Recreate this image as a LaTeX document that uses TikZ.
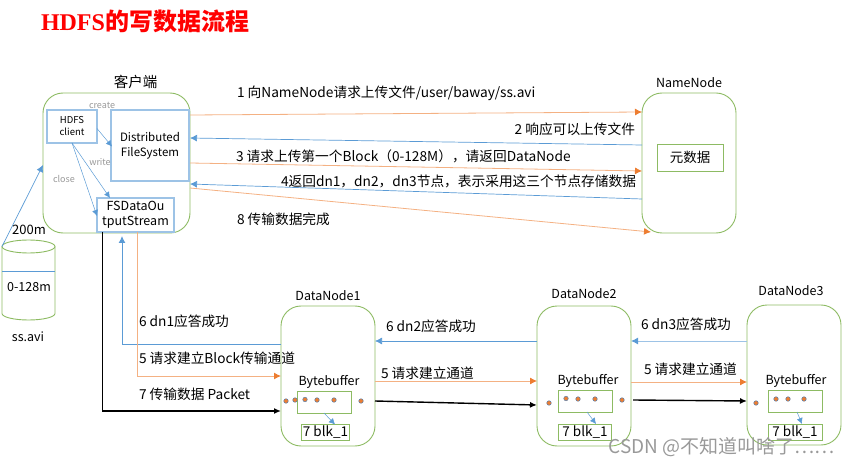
\documentclass[tikz,border=0pt]{standalone}
\usepackage{fontspec}
\setmainfont{Noto Sans CJK SC}
\newfontfamily\titlefont{Liberation Serif}
\usetikzlibrary{arrows.meta, positioning}
\usepackage{xcolor}
\definecolor{boxgreen}{HTML}{8DBB63}
\definecolor{boxblue}{HTML}{9DC3E6}
\definecolor{arrblue}{HTML}{5B9BD5}
\definecolor{arrorange}{HTML}{F4B183}
\definecolor{tiporange}{HTML}{ED7D31}
\definecolor{dotblue}{HTML}{5B7FA8}

\begin{document}
\begin{tikzpicture}[
      x=1pt, y=-1pt,
      every node/.style = {inner sep=0pt, outer sep=0pt},
      host/.style  = {draw=boxgreen, line width=0.9pt, rounded corners=20pt,
                      minimum width=94pt, minimum height=140pt},
      gbox/.style  = {draw=boxgreen, line width=0.9pt, minimum width=54pt, minimum height=22pt},
      blk/.style   = {draw=boxgreen, line width=0.9pt, minimum width=48pt, minimum height=16pt, font=\fontsize{13.5}{14}\selectfont},
      bbox/.style  = {draw=boxblue, line width=1.1pt, align=center, font=\fontsize{11.5}{15}\selectfont},
      lbl/.style   = {font=\fontsize{13.7}{15}\selectfont},
      smalllbl/.style = {font=\fontsize{9}{10}\selectfont, text=gray!80},
      hostlbl/.style  = {font=\fontsize{12.5}{14}\selectfont},
      filelbl/.style  = {font=\fontsize{12.5}{14}\selectfont},
      dot/.style   = {circle, fill=tiporange, draw=dotblue, line width=0.5pt, minimum size=4.5pt},
      arrb/.style  = {-{Latex[length=7pt,width=7pt]}, arrblue, line width=0.7pt},
      arro/.style  = {-{Latex[length=7pt,width=7pt,color=tiporange]}, arrorange, line width=0.8pt},
      arrk/.style  = {-{Latex[length=7pt,width=6pt]}, black, line width=1.4pt},
      thinarr/.style = {-{Latex[length=6pt,width=6pt]}, arrblue, line width=0.5pt}
    ]
    \useasboundingbox (0,0) rectangle (849,465);

    \node[anchor=west, text=red, font=\fontsize{24}{25}\selectfont\bfseries] (title) at (41,21)
         {{\titlefont\bfseries HDFS}的写数据流程};

    % client side
    \node[host, minimum width=147pt] (client) at (116.5,163) {};
    \node[hostlbl, above=4pt of client, xshift=19pt, font=\fontsize{14.5}{15}\selectfont] (clientname) {客户端};
    \node[bbox, minimum width=50pt, minimum height=33pt, anchor=north west, font=\fontsize{9.5}{12}\selectfont] (hdfs) at (47,110) {HDFS\\client};
    \node[bbox, minimum width=78pt, minimum height=71pt, anchor=north west] (dfs) at (111,110) {Distributed\\FileSystem};
    \node[bbox, minimum width=77pt, minimum height=34pt, anchor=south, font=\fontsize{12.5}{15.5}\selectfont] (fsout) at (135.5,232) {FSDataOu\\tputStream};
    \node[smalllbl] (createlbl) at (102,105) {create};
    \node[smalllbl] (writelbl) at (100,162) {write};
    \node[smalllbl] (closelbl) at (64,179) {close};

    % the file
    \node[minimum width=53pt, minimum height=80pt] (file) at (28.5,280) {};
    \draw[boxgreen, line width=0.9pt] ([yshift=-6.5pt]file.north) ellipse [x radius=26.5pt, y radius=6.5pt];
    \draw[boxgreen, line width=0.9pt] ([yshift=-6.5pt]file.north west) -- ([yshift=6.5pt]file.south west)
         arc [start angle=180, end angle=360, x radius=26.5pt, y radius=6.5pt] -- ([yshift=-6.5pt]file.north east);
    \draw[arrblue, line width=0.7pt] (file.west |- 0,271) -- (file.east |- 0,271);
    \node[filelbl, font=\fontsize{13}{14}\selectfont] (sizelbl) at (29,230) {200m};
    \node[filelbl] (blocklbl) at (29,287) {0-128m};
    \node[filelbl] (filename) at (28,337) {ss.avi};

    % namenode
    \node[host, right=452pt of client] (namenode) {};
    \node[hostlbl, above=5pt of namenode] (nnname) {NameNode};
    \node[gbox, minimum width=66pt, minimum height=27pt, font=\fontsize{13.5}{14}\selectfont] (meta) at (690,157.5) {元数据};

    % datanodes
    \node[host] (dn1) at (328,376) {};
    \node[host, right=162pt of dn1] (dn2) {};
    \node[host, right=116pt of dn2, yshift=1pt] (dn3) {};
    \node[hostlbl, above=5pt of dn1] (dn1name) {DataNode1};
    \node[hostlbl, above=7pt of dn2] (dn2name) {DataNode2};
    \node[hostlbl, above=9pt of dn3, xshift=-3pt] (dn3name) {DataNode3};

    \node[gbox] (buf1) at (324,402) {};
    \node[gbox] (buf2) at (585,401) {};
    \node[gbox] (buf3) at (795,401) {};
    \node[hostlbl, above=3pt of buf1, xshift=5pt] (bb1) {Bytebuffer};
    \node[hostlbl, above=3pt of buf2, xshift=3pt] (bb2) {Bytebuffer};
    \node[hostlbl, above=3pt of buf3, xshift=1pt] (bb3) {Bytebuffer};
    \node[blk, below=11.5pt of buf1, xshift=1.5pt] (blk1) {7 blk\_1};
    \node[blk, below=12pt of buf2, minimum width=53pt] (blk2) {7 blk\_1};
    \node[blk, below=12pt of buf3, minimum width=54pt] (blk3) {7 blk\_1};

    \foreach \px/\py in {286/401, 295/400, 305/399.5, 317/400, 334/400, 361/401,
                         549/403, 566/398.5, 578/399, 595/399, 622/400,
                         756/403, 776/399, 788/399, 804/399}
      \node[dot] at (\px,\py) {};

    % client inside
    \draw[thinarr] ([yshift=-2pt]hdfs.east) -- ([yshift=-1pt,xshift=1pt]dfs.west);
    \draw[thinarr] (hdfs.south) -- ([xshift=13pt]fsout.north west);
    \draw[thinarr] (hdfs.south) -- ([yshift=-1pt]fsout.west);
    \draw[arrb] ([yshift=-6.5pt]file.north west) -- ([yshift=-2pt]client.west);

    % to and from the namenode
    \draw[arro] ([yshift=48pt]client.east) -- ([yshift=51pt]namenode.west);
    \draw[arrb] ([yshift=18pt]namenode.west) -- ([yshift=25pt]client.east);
    \draw[arro] (client.east) -- ([yshift=-8pt]namenode.west);
    \draw[arrb] ([yshift=-36pt]namenode.west) -- ([yshift=-21pt]client.east);
    \draw[arro] ([yshift=-25pt]client.east) -- ([xshift=9pt,yshift=1pt]namenode.south west);

    \node[lbl, anchor=west] (msg1) at (237,93) {1 向NameNode请求上传文件/user/baway/ss.avi};
    \node[lbl, anchor=east] (msg2) at (635,129) {2 响应可以上传文件};
    \node[lbl, anchor=west] (msg3) at (236,156) {3 请求上传第一个Block（0-128M），请返回DataNode};
    \node[lbl, anchor=east] (msg4) at (636,181) {4返回dn1，dn2，dn3节点，表示采用这三个节点存储数据};
    \node[lbl, anchor=west] (msg8) at (237,219) {8 传输数据完成};

    % pipeline
    \draw[arrb, line width=1pt] ([yshift=32pt]dn1.west) -| ([xshift=-13.5pt,yshift=-4pt]fsout.south);
    \draw[arro, line width=1pt] ([xshift=1.5pt]fsout.south) |- (dn1.west);
    \draw[arrk] ([xshift=-33pt]fsout.south) |- ([yshift=-35pt]dn1.west);

    \draw[arrb] ([yshift=35pt]dn2.west) -- ([yshift=35pt]dn1.east);
    \draw[arro] ([yshift=-5pt]dn1.east) -- ([yshift=-5pt]dn2.west);
    \draw[arrk] ([yshift=-25pt]dn1.east) -- ([yshift=-29pt]dn2.west);
    \draw[arrb, boxblue, -{Latex[length=7pt,width=7pt,color=arrblue]}, line width=1pt] ([yshift=34pt]dn3.west) -- ([yshift=35pt]dn2.east);
    \draw[arro] ([yshift=-6pt]dn2.east) -- ([yshift=-7pt]dn3.west);
    \draw[arrk] ([xshift=2pt,yshift=-24pt]dn2.east) -- ([yshift=-26pt]dn3.west);

    \draw[thinarr] (buf1.south) -- ([xshift=11pt]buf1.south |- blk1.north);
    \draw[thinarr] ([xshift=2pt]buf2.south) -- ([xshift=11pt]buf2.south |- blk2.north);
    \draw[thinarr] ([xshift=2pt]buf3.south) -- ([xshift=7pt]buf3.south |- blk3.north);

    \node[lbl, anchor=west] (ack1) at (139,321) {6 dn1应答成功};
    \node[lbl, anchor=west] (req1) at (139,358) {5 请求建立Block传输通道};
    \node[lbl, anchor=west] (pkt)  at (139,394) {7 传输数据 Packet};
    \node[lbl, anchor=west] (ack2) at (386,326) {6 dn2应答成功};
    \node[lbl, anchor=west] (req2) at (381,373) {5 请求建立通道};
    \node[lbl, anchor=west] (ack3) at (641,324) {6 dn3应答成功};
    \node[lbl, anchor=west] (req3) at (644,369) {5 请求建立通道};

    \node[anchor=east, text=gray!80, font=\fontsize{19}{20}\selectfont] (mark) at (835,447) {CSDN @不知道叫啥了……};
  \end{tikzpicture}
\end{document}
